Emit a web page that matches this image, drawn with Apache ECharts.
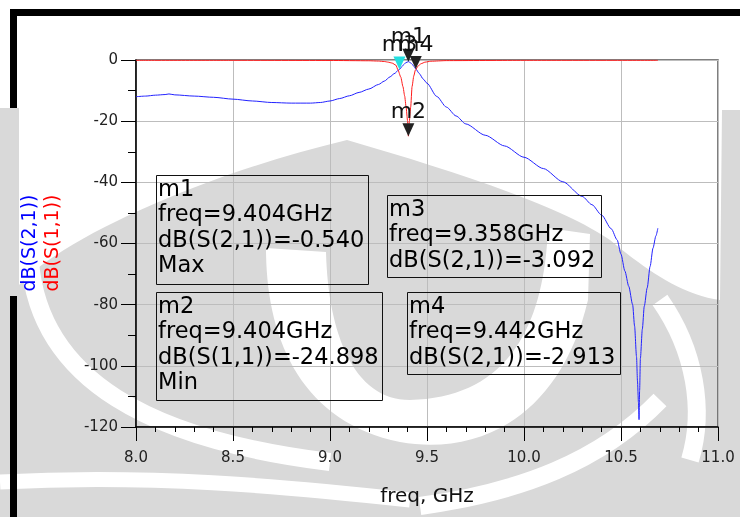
<!DOCTYPE html>
<html><head><meta charset="utf-8">
<script src="https://cdn.jsdelivr.net/npm/echarts@6/dist/echarts.min.js"></script>
<style>
html,body{margin:0;padding:0;background:#fff;}
#wrap{position:relative;width:740px;height:517px;overflow:hidden;}
#bg{position:absolute;left:0;top:0;}
#c{position:absolute;left:0;top:0;width:740px;height:517px;}
</style>
</head><body>
<div id="wrap">
<svg id="bg" width="740" height="517" xmlns="http://www.w3.org/2000/svg">
  <rect x="10" y="9" width="730" height="7" fill="#000"/>
  <rect x="10" y="9" width="7" height="508" fill="#000"/>
  <path d="M0,108 L19,108 L19,285 C60,240 200,175 347,140 C450,170 560,205 610,240 C640,265 680,295 720,300 L722,110 L740,110 L740,517 L0,517 Z" fill="#d9d9d9"/>
  <g fill="#fff" stroke="none">
    <path d="M266,248 C266,340 302,422 400,442 C478,456 560,418 588,300 L590,234 L548,228 C544,330 505,398 410,400 C352,400 328,330 326,252 Z"/>
  </g>
  <g fill="none" stroke="#fff" stroke-linecap="butt">
    <path d="M30,262 C40,380 150,440 330,462" stroke-width="18"/>
    <path d="M0,482 C150,474 280,486 410,500" stroke-width="15"/>
    <path d="M420,506 C520,492 600,462 660,400" stroke-width="18"/>
    <path d="M660,300 C695,350 705,410 690,460" stroke-width="18"/>
  </g>
  <rect x="10" y="296" width="7" height="221" fill="#000"/>
</svg>
<div id="c"></div>
</div>
<script>
// ---- data ----
const freqS21 = [8.00,8.05,8.10,8.15,8.17,8.20,8.30,8.40,8.50,8.60,8.70,8.80,8.90,8.95,9.00,9.05,9.10,9.15,9.20,9.25,9.28,9.31,9.33,9.358,9.37,9.38,9.39,9.404,9.415,9.425,9.435,9.442,9.46,9.48,9.50,9.55,9.60,9.65,9.70,9.80,9.90,10.00,10.10,10.20,10.30,10.35,10.40,10.45,10.48,10.50,10.52,10.54,10.56,10.57,10.58,10.585,10.59,10.593,10.596,10.60,10.61,10.62,10.635,10.65,10.665,10.68,10.69];
const dbS21 = [-12.0,-11.8,-11.5,-11.3,-11.1,-11.4,-11.8,-12.2,-12.8,-13.4,-13.9,-14.1,-14.1,-13.9,-13.4,-12.6,-11.7,-10.6,-9.5,-8.0,-6.9,-5.5,-4.5,-3.092,-2.2,-1.5,-0.9,-0.540,-0.9,-1.5,-2.3,-2.913,-4.4,-6.2,-7.6,-11.9,-15.4,-18.3,-20.9,-24.6,-28.1,-31.8,-35.5,-39.8,-44.6,-47.3,-50.7,-55.2,-58.8,-63.5,-69.0,-74.0,-80.0,-87.0,-97.0,-105.0,-112.0,-117.6,-108.0,-97.5,-88.0,-80.5,-74.5,-67.5,-61.5,-57.5,-55.0];
const freqS11 = [8.00,8.50,9.00,9.20,9.25,9.28,9.30,9.32,9.34,9.35,9.365,9.376,9.385,9.392,9.40,9.404,9.409,9.416,9.423,9.432,9.44,9.455,9.47,9.49,9.52,9.60,10.00,10.69];
const dbS11 = [-0.1,-0.1,-0.15,-0.25,-0.35,-0.5,-0.7,-1.0,-1.7,-3.2,-5.6,-8.7,-11.8,-15.3,-20.0,-24.898,-20.0,-15.3,-8.7,-5.2,-3.3,-1.9,-1.2,-0.7,-0.4,-0.2,-0.1,-0.1];
const yTicks = [-120,-100,-80,-60,-40,-20,0];
const xTicks = [8.0,8.5,9.0,9.5,10.0,10.5,11.0];
const markerNames = ['m1','m2','m3','m4'];
const markerFreq = [9.404,9.404,9.358,9.442];
const markerDb = [-0.540,-24.898,-3.092,-2.913];
const markerTrace = ['S(2,1)','S(1,1)','S(2,1)','S(2,1)'];
const markerNote = ['Max','Min','',''];
const markerColor = ['#222222','#222222','#22e0e0','#222222'];
// ---- layout ----
const boxes = [[156,175,212,109],[156,292,226,108],[387,195,214,82],[407,292,213,82]];
const FONT = '"DejaVu Sans", Arial, sans-serif';

const chart = echarts.init(document.getElementById('c'), null, {renderer:'canvas'});
const s21 = freqS21.map((f,i)=>[f,dbS21[i]]);
const s11 = freqS11.map((f,i)=>[f,dbS11[i]]);

function mp(i){
  return {
    name: markerNames[i], coord:[markerFreq[i], markerDb[i]],
    symbol:'triangle', symbolRotate:180, symbolSize:[12,13], symbolOffset:[0,-6.5],
    itemStyle:{color:markerColor[i]},
    label:{show:true, position:'top', distance:0, formatter:markerNames[i], color:'#111', fontFamily:FONT, fontSize:22}
  };
}

const graphics = [];
boxes.forEach((b,i)=>{
  graphics.push({type:'rect', z:10, shape:{x:b[0]+0.5,y:b[1]+0.5,width:b[2],height:b[3]}, style:{fill:null, stroke:'#111', lineWidth:1}});
  let lines = [markerNames[i], 'freq='+markerFreq[i].toFixed(3)+'GHz', 'dB('+markerTrace[i]+')='+markerDb[i].toFixed(3)];
  if (markerNote[i]) lines.push(markerNote[i]);
  graphics.push({type:'text', z:10, x:b[0]+2, y:b[1]+2, style:{text:lines.join('\n'), fill:'#000', font:'22.5px '+FONT, lineHeight:25.5, textAlign:'left', textVerticalAlign:'top'}});
});
graphics.push({type:'text', z:10, x:30, y:243, rotation:Math.PI/2, style:{text:'dB(S(2,1))', fill:'#0000ff', font:'19px '+FONT, textAlign:'center', textVerticalAlign:'middle'}});
graphics.push({type:'text', z:10, x:53, y:243, rotation:Math.PI/2, style:{text:'dB(S(1,1))', fill:'#ff0000', font:'19px '+FONT, textAlign:'center', textVerticalAlign:'middle'}});

chart.setOption({
  animation:false,
  backgroundColor:'transparent',
  grid:{left:136, top:60, width:582, height:367, show:true, borderColor:'#555', borderWidth:1.5, backgroundColor:'transparent'},
  xAxis:{type:'value', min:xTicks[0], max:xTicks[xTicks.length-1], interval:0.5,
    axisLine:{onZero:false, lineStyle:{color:'#000', width:1.5}},
    axisTick:{show:true, length:14, lineStyle:{color:'#000'}},
    minorTick:{show:true, splitNumber:5, length:5, lineStyle:{color:'#000'}},
    splitLine:{show:true, lineStyle:{color:'#bdbdbd', width:1}},
    axisLabel:{formatter:v=>v.toFixed(1), fontFamily:FONT, fontSize:15, color:'#222', margin:24},
    name:'freq, GHz', nameLocation:'middle', nameGap:60,
    nameTextStyle:{fontFamily:FONT, fontSize:20, color:'#111'}},
  yAxis:{type:'value', min:yTicks[0], max:yTicks[yTicks.length-1], interval:20,
    axisLine:{show:true, onZero:false, lineStyle:{color:'#000', width:1.5}},
    axisTick:{show:true, length:15, lineStyle:{color:'#000'}},
    minorTick:{show:true, splitNumber:2, length:8, lineStyle:{color:'#000'}},
    splitLine:{show:true, lineStyle:{color:'#bdbdbd', width:1}},
    axisLabel:{fontFamily:FONT, fontSize:15, color:'#222', margin:18}},
  graphic:graphics,
  series:[
    {type:'line', name:'dB(S(2,1))', data:s21, showSymbol:false, smooth:0.25, smoothMonotone:'x', lineStyle:{color:'#2222ff', width:1}, z:3,
      markPoint:{data:[mp(0),mp(2),mp(3)], z:6}},
    {type:'line', name:'dB(S(1,1))', data:s11, showSymbol:false, smooth:0.2, smoothMonotone:'x', lineStyle:{color:'#ff1a1a', width:1}, z:4,
      markPoint:{data:[mp(1)], z:6}}
  ]
});
</script>
</body></html>
